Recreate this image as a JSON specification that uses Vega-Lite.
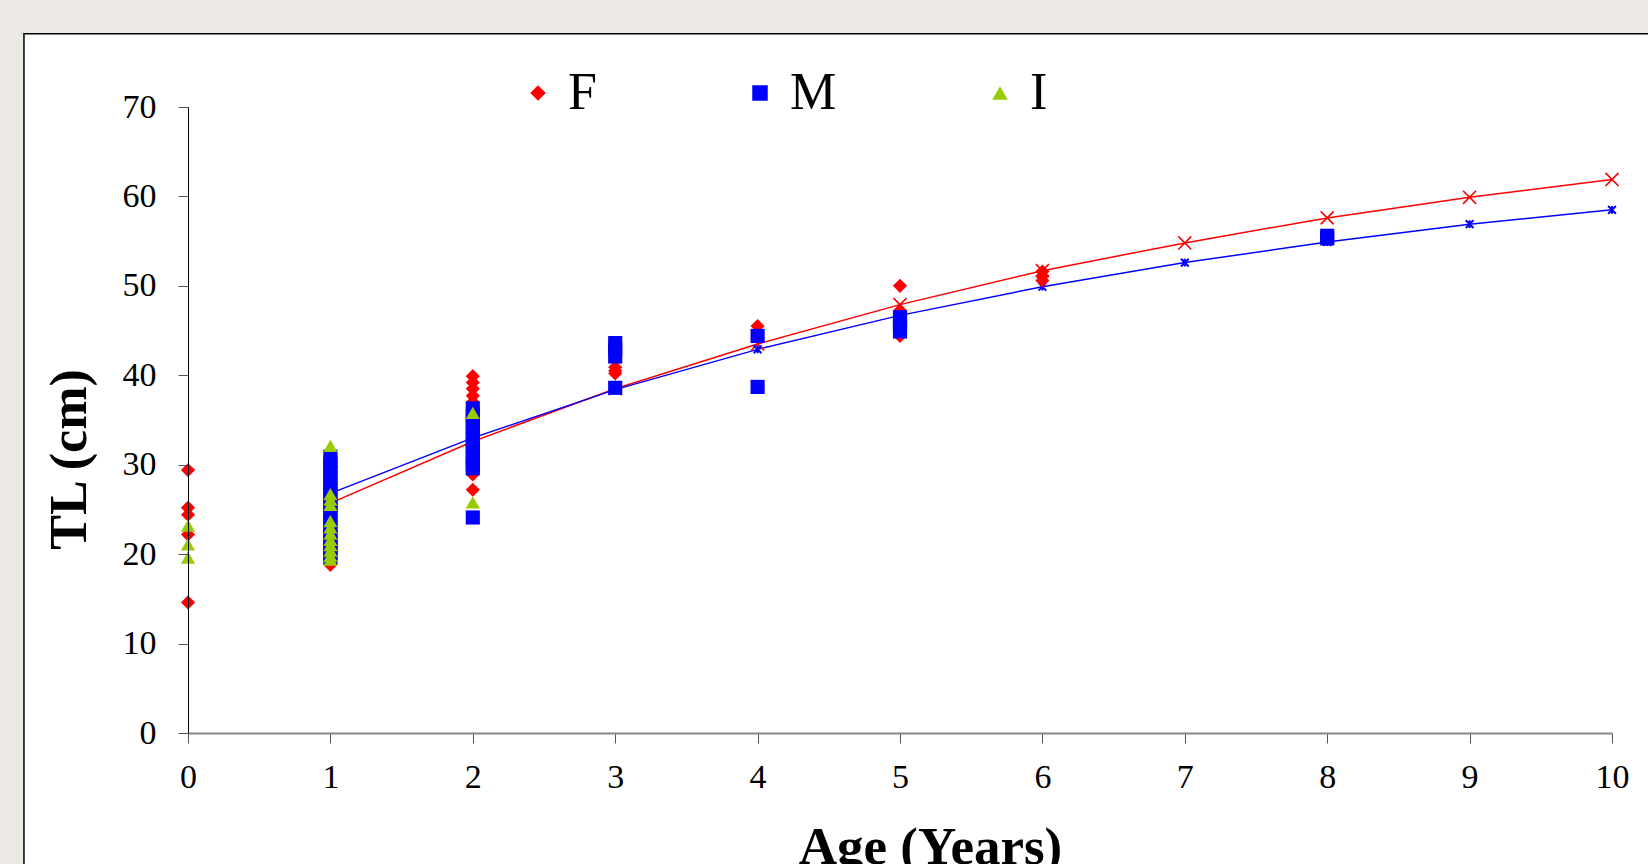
{
  "$schema": "https://vega.github.io/schema/vega-lite/v6.json",
  "width": 1424,
  "height": 626,
  "autosize": {"type": "none"},
  "padding": {"left": 188, "top": 107, "right": 36, "bottom": 131},
  "background": "#ece8e3",
  "config": {
    "view": {"stroke": null},
    "font": "Liberation Serif",
    "axis": {"grid": false}
  },
  "datasets": {
    "frame": [{"part": "frame"}],
    "obs": [
      {"sex": "F", "age": 0, "tl": 29.4}, {"sex": "F", "age": 0, "tl": 25.2}, {"sex": "F", "age": 0, "tl": 24.4}, {"sex": "F", "age": 0, "tl": 22.2}, {"sex": "F", "age": 0, "tl": 14.6},
      {"sex": "F", "age": 1, "tl": 18.8}, {"sex": "F", "age": 1, "tl": 19.4}, {"sex": "F", "age": 1, "tl": 20.1}, {"sex": "F", "age": 1, "tl": 21.0}, {"sex": "F", "age": 1, "tl": 22.5}, {"sex": "F", "age": 1, "tl": 24.0}, {"sex": "F", "age": 1, "tl": 26.0},
      {"sex": "F", "age": 2, "tl": 39.9}, {"sex": "F", "age": 2, "tl": 39.2}, {"sex": "F", "age": 2, "tl": 38.5}, {"sex": "F", "age": 2, "tl": 37.7}, {"sex": "F", "age": 2, "tl": 37.0}, {"sex": "F", "age": 2, "tl": 28.9}, {"sex": "F", "age": 2, "tl": 27.2},
      {"sex": "F", "age": 3, "tl": 40.9}, {"sex": "F", "age": 3, "tl": 40.5}, {"sex": "F", "age": 3, "tl": 40.2},
      {"sex": "F", "age": 4, "tl": 45.5},
      {"sex": "F", "age": 5, "tl": 50.0}, {"sex": "F", "age": 5, "tl": 47.2}, {"sex": "F", "age": 5, "tl": 44.4},
      {"sex": "F", "age": 6, "tl": 51.6}, {"sex": "F", "age": 6, "tl": 51.1}, {"sex": "F", "age": 6, "tl": 50.6},
      {"sex": "M", "age": 1, "tl": 30.9}, {"sex": "M", "age": 1, "tl": 30.3}, {"sex": "M", "age": 1, "tl": 29.7}, {"sex": "M", "age": 1, "tl": 29.1}, {"sex": "M", "age": 1, "tl": 28.5}, {"sex": "M", "age": 1, "tl": 27.9}, {"sex": "M", "age": 1, "tl": 27.3}, {"sex": "M", "age": 1, "tl": 26.7}, {"sex": "M", "age": 1, "tl": 26.1}, {"sex": "M", "age": 1, "tl": 25.5}, {"sex": "M", "age": 1, "tl": 24.9}, {"sex": "M", "age": 1, "tl": 24.3}, {"sex": "M", "age": 1, "tl": 23.7}, {"sex": "M", "age": 1, "tl": 23.1}, {"sex": "M", "age": 1, "tl": 22.5}, {"sex": "M", "age": 1, "tl": 21.9}, {"sex": "M", "age": 1, "tl": 21.3}, {"sex": "M", "age": 1, "tl": 20.7}, {"sex": "M", "age": 1, "tl": 20.1}, {"sex": "M", "age": 1, "tl": 19.6},
      {"sex": "M", "age": 2, "tl": 36.3}, {"sex": "M", "age": 2, "tl": 35.6}, {"sex": "M", "age": 2, "tl": 34.9}, {"sex": "M", "age": 2, "tl": 34.2}, {"sex": "M", "age": 2, "tl": 33.5}, {"sex": "M", "age": 2, "tl": 32.8}, {"sex": "M", "age": 2, "tl": 32.1}, {"sex": "M", "age": 2, "tl": 31.4}, {"sex": "M", "age": 2, "tl": 30.7}, {"sex": "M", "age": 2, "tl": 30.0}, {"sex": "M", "age": 2, "tl": 29.6}, {"sex": "M", "age": 2, "tl": 24.1},
      {"sex": "M", "age": 3, "tl": 43.6}, {"sex": "M", "age": 3, "tl": 42.9}, {"sex": "M", "age": 3, "tl": 42.1}, {"sex": "M", "age": 3, "tl": 38.6},
      {"sex": "M", "age": 4, "tl": 44.4}, {"sex": "M", "age": 4, "tl": 38.7},
      {"sex": "M", "age": 5, "tl": 46.5}, {"sex": "M", "age": 5, "tl": 46.0}, {"sex": "M", "age": 5, "tl": 45.5}, {"sex": "M", "age": 5, "tl": 44.9},
      {"sex": "M", "age": 8, "tl": 55.6}, {"sex": "M", "age": 8, "tl": 55.3},
      {"sex": "I", "age": 0, "tl": 23.2}, {"sex": "I", "age": 0, "tl": 21.1}, {"sex": "I", "age": 0, "tl": 19.6},
      {"sex": "I", "age": 1, "tl": 32.1}, {"sex": "I", "age": 1, "tl": 26.7}, {"sex": "I", "age": 1, "tl": 26.1}, {"sex": "I", "age": 1, "tl": 25.5}, {"sex": "I", "age": 1, "tl": 23.7}, {"sex": "I", "age": 1, "tl": 23.0}, {"sex": "I", "age": 1, "tl": 22.3}, {"sex": "I", "age": 1, "tl": 21.6}, {"sex": "I", "age": 1, "tl": 21.0}, {"sex": "I", "age": 1, "tl": 20.4}, {"sex": "I", "age": 1, "tl": 19.8}, {"sex": "I", "age": 1, "tl": 19.4},
      {"sex": "I", "age": 2, "tl": 35.8}, {"sex": "I", "age": 2, "tl": 25.8}
    ],
    "fit": [
      {"sex": "F", "age": 1, "tl": 25.7}, {"sex": "F", "age": 2, "tl": 32.6}, {"sex": "F", "age": 3, "tl": 38.5}, {"sex": "F", "age": 4, "tl": 43.5}, {"sex": "F", "age": 5, "tl": 47.9}, {"sex": "F", "age": 6, "tl": 51.7}, {"sex": "F", "age": 7, "tl": 54.8}, {"sex": "F", "age": 8, "tl": 57.6}, {"sex": "F", "age": 9, "tl": 59.9}, {"sex": "F", "age": 10, "tl": 61.9},
      {"sex": "M", "age": 1, "tl": 26.8}, {"sex": "M", "age": 2, "tl": 33.0}, {"sex": "M", "age": 3, "tl": 38.4}, {"sex": "M", "age": 4, "tl": 42.9}, {"sex": "M", "age": 5, "tl": 46.7}, {"sex": "M", "age": 6, "tl": 49.9}, {"sex": "M", "age": 7, "tl": 52.6}, {"sex": "M", "age": 8, "tl": 54.9}, {"sex": "M", "age": 9, "tl": 56.9}, {"sex": "M", "age": 10, "tl": 58.5}
    ]
  },
  "layer": [
    {
      "data": {"name": "frame"},
      "mark": {"type": "rect", "fill": "#ffffff", "stroke": "#000000", "strokeWidth": 1.5, "clip": false},
      "encoding": {
        "x": {"datum": -1.152, "type": "quantitative"},
        "x2": {"datum": 11.4},
        "y": {"datum": 78.2, "type": "quantitative"},
        "y2": {"datum": -17}
      }
    },
    {
      "data": {"name": "fit"},
      "transform": [{"filter": "datum.sex === 'F'"}],
      "mark": {"type": "line", "color": "#ff0000", "strokeWidth": 1.5},
      "encoding": {
        "x": {"field": "age", "type": "quantitative"},
        "y": {"field": "tl", "type": "quantitative"}
      }
    },
    {
      "data": {"name": "fit"},
      "transform": [{"filter": "datum.sex === 'M'"}],
      "mark": {"type": "line", "color": "#0000ff", "strokeWidth": 1.5},
      "encoding": {
        "x": {"field": "age", "type": "quantitative"},
        "y": {"field": "tl", "type": "quantitative"}
      }
    },
    {
      "data": {"name": "fit"},
      "transform": [{"filter": "datum.sex === 'F'"}],
      "mark": {"type": "point", "shape": "M-1,-1L1,1M-1,1L1,-1", "filled": false, "color": "#ff0000", "strokeWidth": 1.6, "size": 170, "opacity": 1},
      "encoding": {
        "x": {"field": "age", "type": "quantitative"},
        "y": {"field": "tl", "type": "quantitative"}
      }
    },
    {
      "data": {"name": "fit"},
      "transform": [{"filter": "datum.sex === 'M'"}],
      "mark": {"type": "point", "shape": "M-1,-1L1,1M-1,1L1,-1M0,-1L0,1", "filled": false, "color": "#0000ff", "strokeWidth": 2, "size": 60, "opacity": 1},
      "encoding": {
        "x": {"field": "age", "type": "quantitative"},
        "y": {"field": "tl", "type": "quantitative"}
      }
    },
    {
      "data": {"name": "obs"},
      "mark": {"type": "point", "filled": true, "size": 200, "opacity": 1},
      "encoding": {
        "x": {
          "field": "age", "type": "quantitative", "title": "Age (Years)",
          "scale": {"domain": [0, 10], "nice": false, "zero": false},
          "axis": {
            "zindex": 1, "format": "d",
            "values": [0, 1, 2, 3, 4, 5, 6, 7, 8, 9, 10],
            "labelFontSize": 34, "labelColor": "#000", "labelFont": "Liberation Serif",
            "tickSize": 10, "tickColor": "#555", "domainColor": "#888", "domainWidth": 2,
            "labelPadding": 17, "labelFlush": false,
            "titleFontSize": 53, "titleFontWeight": "bold", "titleColor": "#000", "titleFont": "Liberation Serif",
            "titleX": 742, "titleY": 130, "titleAlign": "center", "titleBaseline": "alphabetic"
          }
        },
        "y": {
          "field": "tl", "type": "quantitative", "title": "TL (cm)",
          "scale": {"domain": [0, 70], "nice": false},
          "axis": {
            "zindex": 1, "format": "d",
            "values": [0, 10, 20, 30, 40, 50, 60, 70],
            "labelFontSize": 34, "labelColor": "#000", "labelFont": "Liberation Serif",
            "tickSize": 10, "tickColor": "#555", "domainColor": "#000", "domainWidth": 1,
            "labelPadding": 22, "labelFlush": false,
            "titleFontSize": 52, "titleFontWeight": "bold", "titleColor": "#000", "titleFont": "Liberation Serif",
            "titleAngle": -90, "titleX": -103, "titleY": 352, "titleAlign": "center", "titleBaseline": "alphabetic"
          }
        },
        "color": {
          "field": "sex", "type": "nominal",
          "scale": {"domain": ["F", "M", "I"], "range": ["#ff0000", "#0000ff", "#99cc00"]},
          "legend": {"title": null, "orient": "none", "direction": "horizontal", "legendX": 324, "legendY": -40, "labelFontSize": 52, "labelFont": "Liberation Serif", "labelColor": "#000", "symbolSize": 240, "labelOffset": 4, "columnPadding": 137, "padding": 0, "symbolStrokeWidth": 0, "symbolOpacity": 1}
        },
        "shape": {
          "field": "sex", "type": "nominal",
          "scale": {"domain": ["F", "M", "I"], "range": ["diamond", "square", "triangle-up"]},
          "legend": {"title": null, "orient": "none", "direction": "horizontal", "legendX": 324, "legendY": -40, "labelFontSize": 52, "labelFont": "Liberation Serif", "labelColor": "#000", "symbolSize": 240, "labelOffset": 4, "columnPadding": 137, "padding": 0, "symbolStrokeWidth": 0, "symbolOpacity": 1}
        }
      }
    }
  ]
}
